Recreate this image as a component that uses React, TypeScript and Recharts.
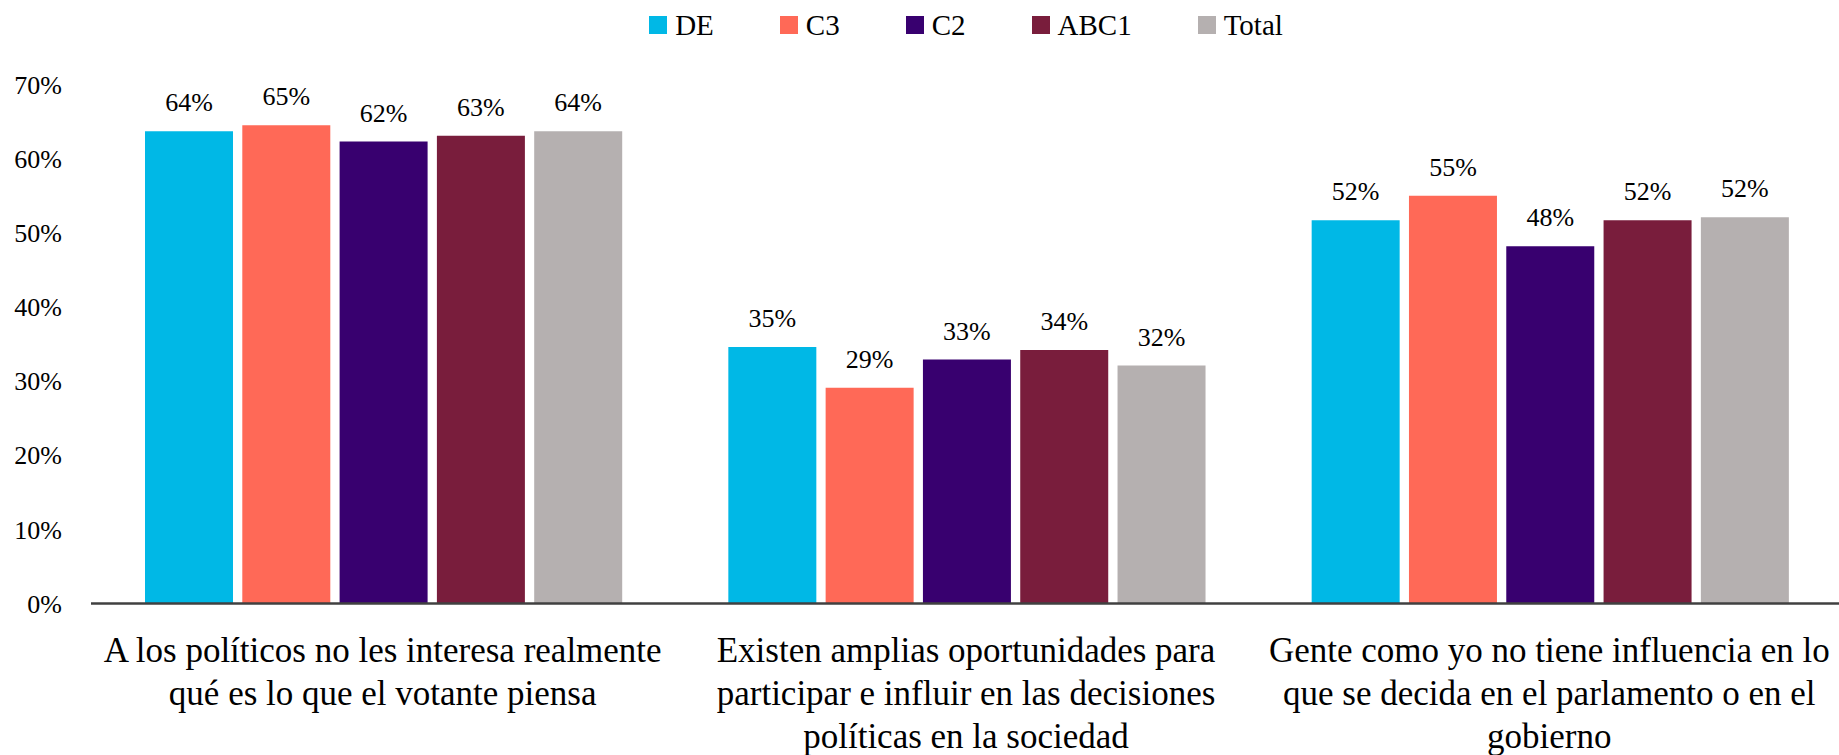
import React from 'react';
import { BarChart, Bar, XAxis, YAxis, Legend, LabelList } from 'recharts';

const categories = [
  'A los políticos no les interesa realmente\nqué es lo que el votante piensa',
  'Existen amplias oportunidades para\nparticipar e influir en las decisiones\npolíticas en la sociedad',
  'Gente como yo no tiene influencia en lo\nque se decida en el parlamento o en el\ngobierno',
];
const seriesNames = ['DE', 'C3', 'C2', 'ABC1', 'Total'];
const deValues = [63.7, 34.6, 51.7];
const c3Values = [64.5, 29.1, 55.0];
const c2Values = [62.3, 32.9, 48.2];
const abc1Values = [63.1, 34.2, 51.7];
const totalValues = [63.7, 32.1, 52.1];
const yTicks = [0, 10, 20, 30, 40, 50, 60, 70];

const colors = ['#00B8E6', '#FF6957', '#38006F', '#791D3C', '#B5B0B0'];
const seriesValues = [deValues, c3Values, c2Values, abc1Values, totalValues];
const FONT = '"Liberation Serif", "Times New Roman", serif';

const data = categories.map((cat, i) => {
  const row: Record<string, any> = { cat };
  seriesNames.forEach((s, j) => {
    row[s] = seriesValues[j][i];
  });
  return row;
});

const CategoryTick = (props: any) => {
  const { x, y, payload } = props;
  const lines = String(payload.value).split('\n');
  return (
    <text x={x} y={y} textAnchor="middle" fill="#000" fontSize={35} style={{ fontFamily: FONT }}>
      {lines.map((ln, i) => (
        <tspan key={i} x={x} y={y + 58.5 + i * 43}>
          {ln}
        </tspan>
      ))}
    </text>
  );
};

const YTick = (props: any) => {
  const { x, y, payload } = props;
  return (
    <text x={x} y={y} dy="0.355em" textAnchor="end" fill="#000" fontSize={26} style={{ fontFamily: FONT }}>
      {`${payload.value}%`}
    </text>
  );
};

const BarLabel = (props: any) => {
  const { x, y, width, value } = props;
  return (
    <text
      x={Number(x) + Number(width) / 2}
      y={Number(y) - 20}
      textAnchor="middle"
      fill="#000"
      fontSize={26}
      style={{ fontFamily: FONT }}
    >
      {`${Math.round(Number(value))}%`}
    </text>
  );
};

const renderLegend = () => (
  <div
    style={{
      height: 84.5,
      width: 1750,
      marginLeft: 91,
      display: 'flex',
      justifyContent: 'center',
      alignItems: 'flex-start',
      paddingTop: 7,
      boxSizing: 'border-box',
      fontFamily: FONT,
      fontSize: 29,
      color: '#000',
    }}
  >
    {seriesNames.map((n, i) => (
      <div
        key={n}
        style={{
          display: 'flex',
          alignItems: 'center',
          height: 36,
          marginRight: i < seriesNames.length - 1 ? 66 : 0,
        }}
      >
        <span
          style={{
            display: 'inline-block',
            width: 18,
            height: 18,
            background: colors[i],
            marginRight: 8,
          }}
        />
        <span style={{ lineHeight: '36px' }}>{n}</span>
      </div>
    ))}
  </div>
);

export default function App() {
  return (
    <div
      style={{
        position: 'absolute',
        left: 0,
        top: 0,
        width: 1839,
        height: 755,
        overflow: 'hidden',
        background: '#fff',
        fontFamily: FONT,
      }}
    >
      <BarChart
        width={1841}
        height={755}
        data={data}
        margin={{ top: 0, right: 0, bottom: 0, left: 0 }}
        barCategoryGap={54}
        barGap={9.3}
        style={{ fontFamily: FONT }}
      >
        <Legend
          verticalAlign="top"
          align="left"
          content={renderLegend}
          wrapperStyle={{ top: 0, left: 0, width: 1841, margin: 0, padding: 0 }}
        />
        <YAxis
          width={91}
          domain={[0, 70]}
          ticks={yTicks}
          interval={0}
          axisLine={false}
          tickLine={false}
          tickSize={0}
          tickMargin={29}
          tick={<YTick />}
        />
        <XAxis
          dataKey="cat"
          height={151.5}
          interval={0}
          axisLine={{ stroke: '#404040', strokeWidth: 2.5 }}
          tickLine={false}
          tickSize={0}
          tickMargin={0}
          tick={<CategoryTick />}
        />
        {seriesNames.map((s, j) => (
          <Bar key={s} dataKey={s} fill={colors[j]} isAnimationActive={false}>
            <LabelList dataKey={s} content={<BarLabel />} />
          </Bar>
        ))}
      </BarChart>
    </div>
  );
}
